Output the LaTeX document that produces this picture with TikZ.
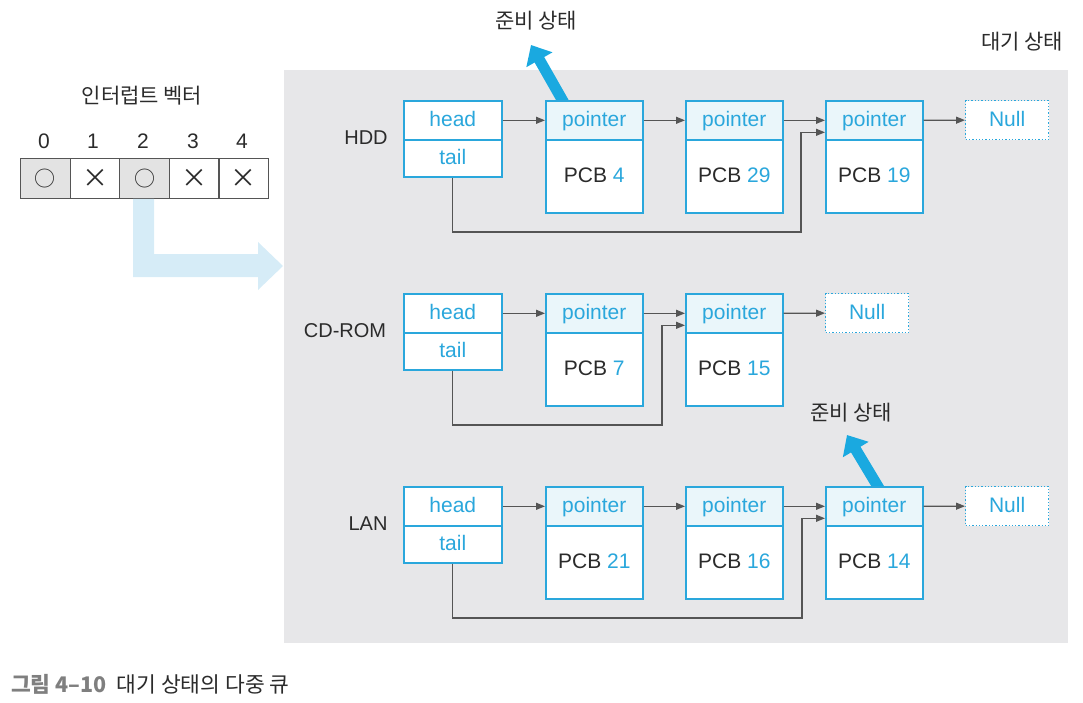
\documentclass[tikz,border=0pt]{standalone}
\usepackage{fontspec}
\setmainfont{Liberation Sans}
\newfontfamily\cjk{Noto Sans CJK KR}
\usetikzlibrary{arrows.meta,calc}
\definecolor{qblue}{HTML}{2AA7DC}
\definecolor{pfill}{HTML}{EAF6FA}
\definecolor{panel}{HTML}{E7E7E9}
\definecolor{connc}{HTML}{555555}
\definecolor{dark}{HTML}{2B2B2B}
\definecolor{lblue}{HTML}{D6ECF7}
\definecolor{vgray}{HTML}{E3E3E3}
\definecolor{capgray}{HTML}{7F7F7F}
\definecolor{thick}{HTML}{1AA9E0}
\begin{document}
\begin{tikzpicture}[x=1pt,y=-1pt,
  box/.style={draw=qblue, line width=1.6pt, inner sep=0pt, anchor=north west, font=\fontsize{21}{24}\selectfont, text height=15pt, text depth=3pt},
  hbox/.style={box, fill=white, minimum width=98pt, minimum height=39pt, text=qblue},
  pbox/.style={box, fill=pfill, minimum width=97pt, minimum height=39pt, text=qblue},
  cbox/.style={box, fill=white, minimum width=97pt, minimum height=73pt, text=dark},
  nbox/.style={box, line width=1.3pt, dotted, fill=white, minimum width=83pt, minimum height=38pt, text=qblue},
  conn/.style={draw=connc, line width=1.2pt, -{Triangle[length=9pt,width=7pt]}},
  ready/.style={draw=thick, line width=11pt, -{Triangle[length=17pt,width=29pt]}},
  lbl/.style={font=\fontsize{20}{24}\selectfont, text=dark, inner sep=0pt},
  klbl/.style={font=\cjk\fontsize{21}{24}\selectfont, text=dark, inner sep=0pt},
  vcell/.style={draw=connc, line width=1.2pt, minimum width=49.6pt, minimum height=40pt, inner sep=0pt, anchor=north west, font=\cjk\fontsize{21}{24}\selectfont, text=dark},
  xsym/.style={font=\cjk\fontsize{26}{28}\selectfont},
  num/.style={font=\fontsize{21}{24}\selectfont, text=dark, inner sep=0pt}
]
\useasboundingbox (0,0) rectangle (1083,703);
% panel
\fill[panel] (284,70) rectangle (1068,643);
% interrupt vector
\node[klbl] (vtitle) at (142,96) {인터럽트 벡터};
\node[num] (n0) at (44,141) {0};
\node[num] (n1) at (93,141) {1};
\node[num] (n2) at (143,141) {2};
\node[num] (n3) at (193,141) {3};
\node[num] (n4) at (242,141) {4};
\node[vcell, fill=vgray] (v0) at (20,158) {○};
\node[vcell, fill=white, xsym] (v1) at (69.6,158) {×};
\node[vcell, fill=vgray] (v2) at (119.2,158) {○};
\node[vcell, fill=white, xsym] (v3) at (168.8,158) {×};
\node[vcell, fill=white, xsym] (v4) at (218.4,158) {×};
% light blue L arrow
\fill[lblue] (133,199) -- (154,199) -- (154,254) -- (258,254) -- (258,242) -- (283,266) -- (258,290) -- (258,277) -- (133,277) -- cycle;
% ready arrows (behind boxes)
\coordinate (r1s) at (564,103);
\coordinate (r1e) at (531,45);
\coordinate (r2s) at (880,490);
\coordinate (r2e) at (847,435);
\draw[ready] (r1s) -- (r1e);
\draw[ready] (r2s) -- (r2e);
\node[klbl] (ready1) at (536,21) {준비 상태};
\node[klbl] (ready2) at (851,413) {준비 상태};
\node[klbl] (wait) at (1022,42) {대기 상태};
% HDD row
\node[lbl] (hdd) at (366,138) {HDD};
\node[hbox] (hddH) at (403,100) {head};
\node[hbox, minimum height=37pt] (hddT) at (403,139) {tail};
\node[pbox] (hddP1) at (545,100) {pointer};
\node[cbox] (hddB1) at (545,139) {PCB \textcolor{qblue}{4}};
\node[pbox] (hddP2) at (685,100) {pointer};
\node[cbox] (hddB2) at (685,139) {PCB \textcolor{qblue}{29}};
\node[pbox] (hddP3) at (825,100) {pointer};
\node[cbox] (hddB3) at (825,139) {PCB \textcolor{qblue}{19}};
\node[nbox, minimum height=39pt] (hddN) at (965,100) {Null};
\draw[conn] (hddH.east) -- (hddP1.west);
\draw[conn] (hddP1.east) -- (hddP2.west);
\draw[conn] (hddP2.east) -- (hddP3.west);
\draw[conn] (hddP3.east) -- (hddN.west);
\coordinate (hddturn) at (801,232);
\draw[conn] (hddT.south) |- (hddturn) |- ([yshift=-12pt]hddP3.west);
% CD-ROM row
\node[lbl] (cd) at (345,331) {CD-ROM};
\node[hbox] (cdH) at (403,293) {head};
\node[hbox, minimum height=37pt] (cdT) at (403,332) {tail};
\node[pbox] (cdP1) at (545,293) {pointer};
\node[cbox] (cdB1) at (545,332) {PCB \textcolor{qblue}{7}};
\node[pbox] (cdP2) at (685,293) {pointer};
\node[cbox] (cdB2) at (685,332) {PCB \textcolor{qblue}{15}};
\node[nbox, minimum height=39pt] (cdN) at (825,293) {Null};
\draw[conn] (cdH.east) -- (cdP1.west);
\draw[conn] (cdP1.east) -- (cdP2.west);
\draw[conn] (cdP2.east) -- (cdN.west);
\coordinate (cdturn) at (662,425);
\draw[conn] (cdT.south) |- (cdturn) |- ([yshift=-12pt]cdP2.west);
% LAN row
\node[lbl] (lan) at (368,524) {LAN};
\node[hbox] (lanH) at (403,486) {head};
\node[hbox, minimum height=37pt] (lanT) at (403,525) {tail};
\node[pbox] (lanP1) at (545,486) {pointer};
\node[cbox] (lanB1) at (545,525) {PCB \textcolor{qblue}{21}};
\node[pbox] (lanP2) at (685,486) {pointer};
\node[cbox] (lanB2) at (685,525) {PCB \textcolor{qblue}{16}};
\node[pbox] (lanP3) at (825,486) {pointer};
\node[cbox] (lanB3) at (825,525) {PCB \textcolor{qblue}{14}};
\node[nbox, minimum height=39pt] (lanN) at (965,486) {Null};
\draw[conn] (lanH.east) -- (lanP1.west);
\draw[conn] (lanP1.east) -- (lanP2.west);
\draw[conn] (lanP2.east) -- (lanP3.west);
\draw[conn] (lanP3.east) -- (lanN.west);
\coordinate (lanturn) at (802,618);
\draw[conn] (lanT.south) |- (lanturn) |- ([yshift=-12pt]lanP3.west);
% caption
\node[anchor=west, inner sep=0pt, font=\cjk\fontsize{21.5}{24}\selectfont] (cap) at (11,684) {\textcolor{capgray}{\bfseries 그림 4–10}\hspace{10pt}\textcolor{dark}{대기 상태의 다중 큐}};
\end{tikzpicture}
\end{document}
